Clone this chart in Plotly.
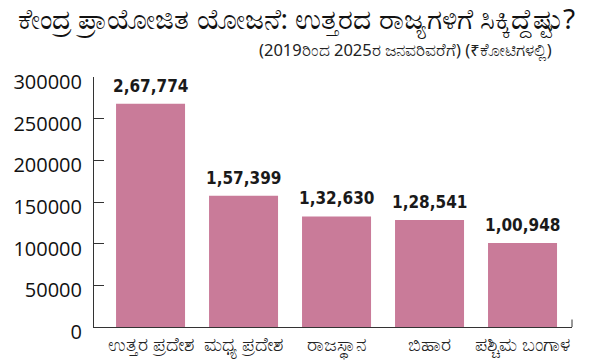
import plotly.graph_objects as go

states = ["ಉತ್ತರ ಪ್ರದೇಶ", "ಮಧ್ಯ ಪ್ರದೇಶ", "ರಾಜಸ್ಥಾನ", "ಬಿಹಾರ", "ಪಶ್ಚಿಮ ಬಂಗಾಳ"]
values = [267774, 157399, 132630, 128541, 100948]
value_labels = ["2,67,774", "1,57,399", "1,32,630", "1,28,541", "1,00,948"]
y_ticks = [0, 50000, 100000, 150000, 200000, 250000, 300000]

title = "ಕೇಂದ್ರ ಪ್ರಾಯೋಜಿತ ಯೋಜನೆ: ಉತ್ತರದ ರಾಜ್ಯಗಳಿಗೆ ಸಿಕ್ಕಿದ್ದೆಷ್ಟು?"
subtitle = "(2019ರಿಂದ 2025ರ ಜನವರಿವರೆಗೆ) (₹ಕೋಟಿಗಳಲ್ಲಿ)"

L, R, T, B = 94, 19, 77, 35
W, H = 591, 362
pw = W - L - R

fig = go.Figure()
fig.add_trace(go.Bar(
    x=list(range(len(states))), y=values,
    marker=dict(color="#C97B99", line=dict(width=0)),
    hoverinfo="skip",
))

for i, (v, lab) in enumerate(zip(values, value_labels)):
    fig.add_annotation(x=i, y=v, text=f"<b>{lab}</b>", showarrow=False,
                       yanchor="bottom", yshift=6,
                       font=dict(family="DejaVu Sans Condensed", size=17, color="#1a1a1a"))

fig.add_annotation(xref="paper", yref="paper", x=(296 - L) / pw, y=1, yshift=T - 19,
                   xanchor="center", yanchor="middle", text=title, showarrow=False,
                   font=dict(family="Noto Sans", size=28, color="#111111"))
fig.add_annotation(xref="paper", yref="paper", x=(554 - L) / pw, y=1, yshift=T - 49,
                   xanchor="right", yanchor="middle", text=subtitle, showarrow=False,
                   font=dict(family="Noto Sans", size=16.5, color="#222222"))

# small end tick at right of x axis
fig.add_shape(type="line", xref="paper", yref="paper", x0=1, x1=1, y0=0, y1=0.03,
              line=dict(color="#333333", width=1))

fig.update_layout(
    width=W, height=H,
    margin=dict(l=L, r=R, t=T, b=B),
    paper_bgcolor="white", plot_bgcolor="white",
    bargap=0.258, showlegend=False,
    xaxis=dict(range=[-0.608, 4.532], tickmode="array",
               tickvals=list(range(len(states))), ticktext=states,
               showline=True, linecolor="#333333", linewidth=1, ticks="",
               showgrid=False, zeroline=False, automargin=False,
               tickfont=dict(family="Noto Sans", size=19, color="#222222")),
    yaxis=dict(range=[0, 300000], tickmode="array", tickvals=y_ticks,
               ticktext=[str(t) for t in y_ticks],
               showline=True, linecolor="#333333", linewidth=1,
               ticks="inside", ticklen=10, tickcolor="#333333",
               showgrid=False, zeroline=False, ticklabelstandoff=7,
               ticklabelshift=5, automargin=False,
               tickfont=dict(family="Open Sans", size=20, color="#111111")),
)

fig.write_html("out.html", config={"displayModeBar": False},
               post_script="document.body.style.margin='0';document.body.style.padding='0';")
